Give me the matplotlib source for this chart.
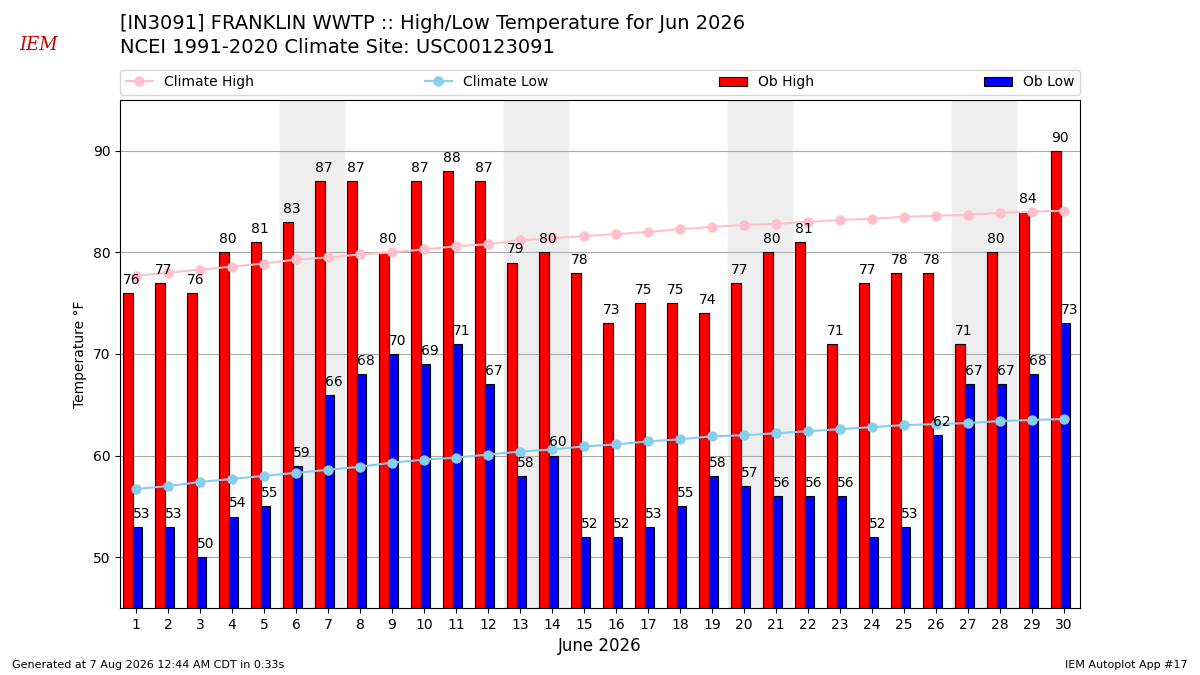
import matplotlib
matplotlib.use("Agg")
import matplotlib.pyplot as plt
import numpy as np

days = np.arange(1, 31)
ob_high = [76, 77, 76, 80, 81, 83, 87, 87, 80, 87, 88, 87, 79, 80, 78,
           73, 75, 75, 74, 77, 80, 81, 71, 77, 78, 78, 71, 80, 84, 90]
ob_low = [53, 53, 50, 54, 55, 59, 66, 68, 70, 69, 71, 67, 58, 60, 52,
          52, 53, 55, 58, 57, 56, 56, 56, 52, 53, 62, 67, 67, 68, 73]
clim_high = [77.7, 78.0, 78.3, 78.6, 78.9, 79.3, 79.5, 79.8, 80.0, 80.3,
             80.6, 80.8, 81.2, 81.4, 81.6, 81.8, 82.0, 82.3, 82.5, 82.7,
             82.8, 83.0, 83.2, 83.3, 83.5, 83.6, 83.7, 83.9, 84.0, 84.1]
clim_low = [56.7, 57.0, 57.4, 57.7, 58.0, 58.3, 58.6, 58.9, 59.3, 59.6,
            59.8, 60.1, 60.4, 60.6, 60.9, 61.1, 61.4, 61.6, 61.9, 62.0,
            62.2, 62.4, 62.6, 62.8, 63.0, 63.1, 63.2, 63.4, 63.5, 63.6]
weekends = [6, 13, 20, 27]   # saturdays

fig = plt.figure(figsize=(12, 6.75), dpi=100)
ax = fig.add_axes([0.1, 0.0993, 0.8, 0.7526])

for sat in weekends:
    ax.axvspan(sat - 0.5, sat + 1.5, color="#eeeeee", zorder=0)

l1, = ax.plot(days, clim_high, color="pink", marker="o", lw=1.5, ms=6.5,
              label="Climate High", zorder=3)
l2, = ax.plot(days, clim_low, color="skyblue", marker="o", lw=1.5, ms=6.5,
              label="Climate Low", zorder=3)
b1 = ax.bar(days - 0.4, ob_high, width=0.3, align="edge", color="r",
            edgecolor="k", linewidth=0.8, label="Ob High", zorder=2)
b2 = ax.bar(days - 0.1, ob_low, width=0.3, align="edge", color="b",
            edgecolor="k", linewidth=0.8, label="Ob Low", zorder=2)

for d, hi, lo in zip(days, ob_high, ob_low):
    ax.text(d - 0.4, hi + 0.6, f"{hi}", ha="left", va="bottom", fontsize=10, zorder=4)
    ax.text(d - 0.1, lo + 0.6, f"{lo}", ha="left", va="bottom", fontsize=10, zorder=4)

ax.set_xlim(0.5, 30.5)
ax.set_ylim(45, 95)
ax.set_xticks(days)
ax.set_yticks([50, 60, 70, 80, 90])
ax.yaxis.grid(True, color="#aaaaaa", lw=0.8)
ax.set_axisbelow(True)
ax.set_ylabel("Temperature °F")
ax.set_xlabel("June 2026", fontsize=12)

ax.legend([l1, l2, b1, b2], ["Climate High", "Climate Low", "Ob High", "Ob Low"],
          ncol=4, mode="expand", loc="lower left", borderaxespad=0,
          bbox_to_anchor=(0, 1.01, 1, 0.05), fontsize=10)

fig.text(0.1, 0.965, "[IN3091] FRANKLIN WWTP :: High/Low Temperature for Jun 2026",
         fontsize=14, va="center")
fig.text(0.1, 0.930, "NCEI 1991-2020 Climate Site: USC00123091",
         fontsize=14, va="center")
fig.text(0.032, 0.933, "IEM", color="#cc0000", fontsize=13, style="italic",
         family="DejaVu Serif", ha="center", va="center")
fig.text(0.01, 0.01, "Generated at 7 Aug 2026 12:44 AM CDT in 0.33s", fontsize=8)
fig.text(0.99, 0.01, "IEM Autoplot App #17", fontsize=8, ha="right")

fig.savefig("out.png")
